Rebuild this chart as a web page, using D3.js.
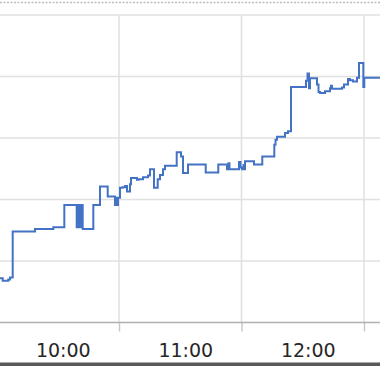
<!DOCTYPE html>
<html>
<head>
<meta charset="utf-8">
<script src="https://cdn.jsdelivr.net/npm/d3@7"></script>
<style>
  body { margin: 0; background: #fff; }
  svg { display: block; }
</style>
</head>
<body>
<div id="chart"></div>
<script>
// readings (time of change, new level)
var times = ["09:30:00","09:33:02","09:35:47","09:36:37","09:37:56","09:48:51","09:57:49","10:03:13",
  "10:09:17","10:10:04","10:10:33","10:11:14","10:12:13","10:17:25","10:20:41","10:24:28",
  "10:28:02","10:28:41","10:29:01","10:29:31","10:30:29","10:31:43","10:32:56","10:33:55",
  "10:35:23","10:35:53","10:38:49","10:39:33","10:41:45","10:44:12","10:45:11","10:47:08",
  "10:48:57","10:50:05","10:51:33","10:52:32","10:58:16","11:00:22","11:01:21","11:03:48",
  "11:12:28","11:18:38","11:22:54","11:23:38","11:24:07","11:28:47","11:29:31","11:30:15",
  "11:30:59","11:31:13","11:31:43","11:36:07","11:40:11","11:46:04","11:46:39","11:47:23",
  "11:51:18","11:52:47","11:54:15","12:01:35","12:02:20","12:03:04","12:03:33","12:06:59",
  "12:07:43","12:08:27","12:10:54","12:13:21","12:13:50","12:14:20","12:19:13","12:20:12",
  "12:22:10","12:23:08","12:24:37","12:26:34","12:27:33","12:29:40","12:30:09","12:38:00"];
var values = [7.2,6.8,7.0,7.3,14.8,15.2,15.5,19.1,
  15.5,19.1,15.5,19.1,15.2,19.1,22.1,20.5,
  19.1,20.3,19.1,20.3,21.9,22.0,22.2,21.3,
  22.5,23.5,23.2,23.3,23.6,23.9,24.9,21.9,
  23.3,24.0,24.9,25.5,27.7,27.0,24.3,25.7,
  24.4,25.7,24.9,25.9,24.9,26.1,25.2,24.9,
  25.6,24.9,26.2,25.7,27.0,28.9,29.7,30.2,
  30.8,31.1,38.3,39.3,40.5,38.1,39.7,38.7,
  37.5,37.3,37.6,38.1,38.5,38.0,38.2,38.7,
  39.6,39.4,39.2,39.8,42.2,38.3,39.8,39.8];
var gridValues = [0, 10, 20, 30, 40, 50];
var tickTimes = ["09:30","10:30","11:30","12:30"];
var labelTimes = ["10:00","11:00","12:00"];
var labelText = ["10:00","11:00","12:00"];

var W = 380, H = 372;
var parseT = d3.timeParse("%H:%M:%S");
var parseHM = d3.timeParse("%H:%M");

var data = times.map(function(t, i) { return {t: parseT(t), v: values[i]}; });

var x = d3.scaleTime()
  .domain([parseHM("09:30"), parseHM("12:30")])
  .range([-3.5, 364]);
var y = d3.scaleLinear()
  .domain([0, 50])
  .range([322.5, 15]);

var svg = d3.select("#chart").append("svg")
  .attr("width", W)
  .attr("height", H);

// dotted frame line at the top
svg.append("line")
  .attr("x1", 0).attr("x2", W)
  .attr("y1", 2.5).attr("y2", 2.5)
  .attr("stroke", "#bdbdbd")
  .attr("stroke-width", 1.5)
  .attr("stroke-dasharray", "2,1.5");

// horizontal grid
svg.append("g")
  .selectAll("line")
  .data(gridValues.filter(function(d) { return d > 0; }))
  .enter().append("line")
  .attr("x1", 0).attr("x2", W)
  .attr("y1", function(d) { return y(d); })
  .attr("y2", function(d) { return y(d); })
  .attr("stroke", "#e0e0e0")
  .attr("stroke-width", 1.5);

// vertical grid
svg.append("g")
  .selectAll("line")
  .data(tickTimes.map(parseHM))
  .enter().append("line")
  .attr("x1", function(d) { return x(d); })
  .attr("x2", function(d) { return x(d); })
  .attr("y1", y(50)).attr("y2", y(0))
  .attr("stroke", "#e0e0e0")
  .attr("stroke-width", 1.5);

// axis with tick marks between labels
var axisTicks = svg.append("g")
  .attr("transform", "translate(0," + y(0) + ")")
  .call(d3.axisBottom(x).tickValues(tickTimes.map(parseHM)).tickSize(9).tickFormat(""));
axisTicks.select(".domain").remove();
axisTicks.selectAll(".tick line").attr("stroke", "#c8c8c8").attr("stroke-width", 1.5);

svg.append("line")
  .attr("x1", 0).attr("x2", W)
  .attr("y1", y(0)).attr("y2", y(0))
  .attr("stroke", "#b0b0b0")
  .attr("stroke-width", 1.5);

var axisLabels = svg.append("g")
  .attr("transform", "translate(0," + y(0) + ")")
  .call(d3.axisBottom(x).tickValues(labelTimes.map(parseHM)).tickSize(0)
    .tickFormat(function(d, i) { return labelText[i]; }));
axisLabels.select(".domain").remove();
axisLabels.selectAll(".tick text")
  .attr("dy", 0)
  .attr("y", 34)
  .attr("dx", 5)
  .style("font-family", "'DejaVu Sans', Verdana, sans-serif")
  .style("font-size", "19px")
  .attr("fill", "#262626");

// the series
var line = d3.line()
  .curve(d3.curveStepAfter)
  .x(function(d) { return x(d.t); })
  .y(function(d) { return y(d.v); });

svg.append("path")
  .datum(data)
  .attr("fill", "none")
  .attr("stroke", "#4472c4")
  .attr("stroke-width", 2)
  .attr("d", line);

// dark edge at the bottom
svg.append("rect")
  .attr("x", 0).attr("y", 362.5)
  .attr("width", W).attr("height", 3.5)
  .attr("fill", "#595959");
</script>
</body>
</html>
